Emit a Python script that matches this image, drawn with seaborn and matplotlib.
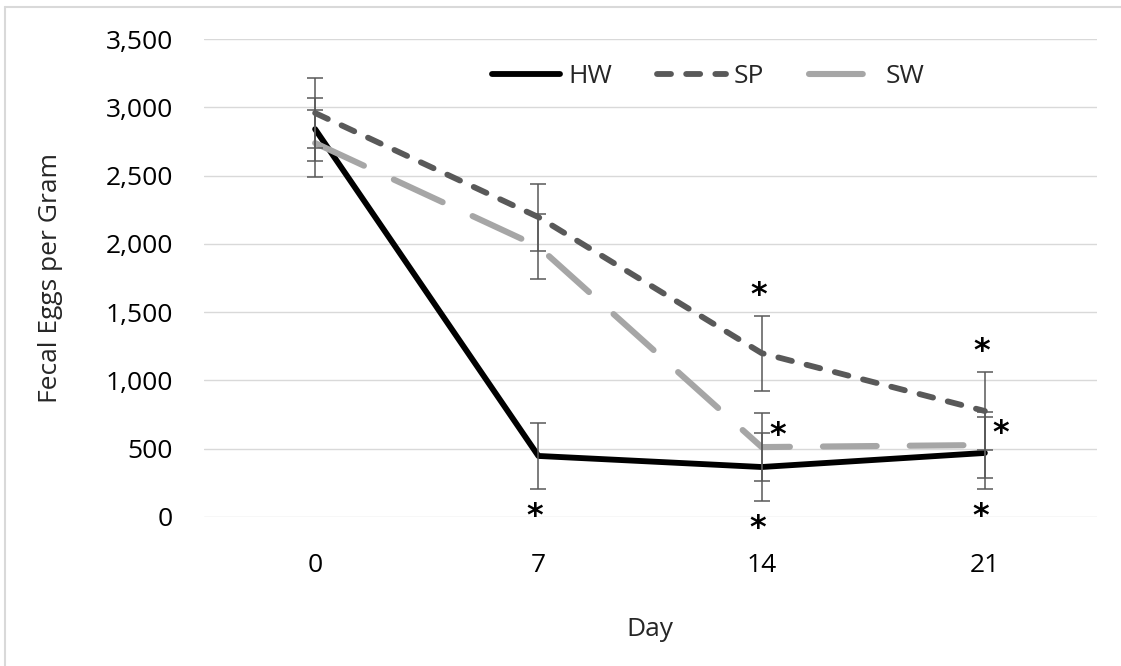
import matplotlib
matplotlib.use("Agg")
import matplotlib.pyplot as plt
from matplotlib.lines import Line2D
from matplotlib.ticker import FuncFormatter
import seaborn as sns
import pandas as pd

# ---- data ----
days = [0, 7, 14, 21]
groups = ["HW", "SP", "SW"]
hw = [2840, 447, 366, 469]
sp = [2958, 2196, 1200, 776]
sw = [2738, 1980, 512, 527]
hw_err = [230, 242, 249, 264]
sp_err = [255, 245, 275, 285]
sw_err = [245, 235, 252, 240]
yticks = [0, 500, 1000, 1500, 2000, 2500, 3000, 3500]

# significance marks: (group, day, side)
sig_group = ["HW", "HW", "SP", "SW", "HW", "SP", "SW"]
sig_day = [7, 14, 14, 14, 21, 21, 21]
sig_side = ["below", "below", "above", "right", "below", "above", "right"]

values = {"HW": hw, "SP": sp, "SW": sw}
errors = {"HW": hw_err, "SP": sp_err, "SW": sw_err}

df = pd.DataFrame({
    "Day": days * 3,
    "Group": [g for g in groups for _ in days],
    "FEC": hw + sp + sw,
})

colors = {"HW": "#000000", "SP": "#595959", "SW": "#A6A6A6"}
lws = {"HW": 4.2, "SP": 4.2, "SW": 4.4}
dash = {"HW": None, "SP": (2.4, 2.6), "SW": (8.8, 5.4)}

sns.set_style("white")
plt.rcParams["font.family"] = ["Open Sans", "DejaVu Sans"]

fig = plt.figure(figsize=(11.21, 6.66), dpi=100)
ax = fig.add_axes([203.5 / 1121, 1 - 517 / 666, 893 / 1121, 478 / 666])

for g in groups:
    sub = df[df["Group"] == g]
    sns.lineplot(data=sub, x="Day", y="FEC", ax=ax, color=colors[g],
                 linewidth=lws[g], label=g, zorder=3)
    ln = ax.lines[-1]
    if dash[g] is not None:
        ln.set_dashes(dash[g])
    ln.set_dash_capstyle("round")
    ln.set_solid_capstyle("round")

for g in groups:
    ax.errorbar(days, values[g], yerr=errors[g], fmt="none",
                ecolor="#595959", elinewidth=1.1, capsize=5.5,
                capthick=1.1, zorder=4)

# significance asterisks
idx = {d: i for i, d in enumerate(days)}
for g, d, s in zip(sig_group, sig_day, sig_side):
    v = values[g][idx[d]]
    e = errors[g][idx[d]]
    if s == "above":
        xy, off = (d, v + e), (-3, 24)
    elif s == "below":
        xy, off = (d, v - e), (-4, -24)
    else:
        xy, off = (d, v), (16, 15)
    ax.annotate("*", xy=xy, xytext=off, textcoords="offset pixels",
                ha="center", va="center_baseline", fontsize=23,
                fontweight="bold", family="DejaVu Sans", color="black",
                annotation_clip=False, zorder=5)

ax.set_xlim(-3.5, 24.5)
ax.set_ylim(0, 3500)
ax.set_xticks(days)
ax.set_yticks(yticks)
ax.yaxis.set_major_formatter(FuncFormatter(lambda v, p: f"{int(v):,}"))
ax.grid(axis="y", color="#D9D9D9", linewidth=1.0)
ax.grid(axis="x", visible=False)
for sp_ in ax.spines.values():
    sp_.set_visible(False)
ax.tick_params(axis="both", length=0, labelsize=19, colors="#000000")
ax.tick_params(axis="y", pad=22)
ax.tick_params(axis="x", pad=26)
ax.set_xlabel("Day", fontsize=19, labelpad=28)
ax.set_ylabel("Fecal Eggs per Gram", fontsize=19, labelpad=31)

ax.legend(loc="center", bbox_to_anchor=(0.565, 0.922), ncol=3, frameon=False,
          fontsize=19, handlelength=2.6, handletextpad=0.3,
          columnspacing=1.7)

# chart-area border (top and left visible)
fig.add_artist(Line2D([5 / 1121, 1.0], [1 - 7 / 666, 1 - 7 / 666],
                      transform=fig.transFigure, color="#D9D9D9", lw=1.5))
fig.add_artist(Line2D([5 / 1121, 5 / 1121], [0.0, 1 - 7 / 666],
                      transform=fig.transFigure, color="#D9D9D9", lw=1.5))

fig.savefig("out.png", dpi=100, facecolor="white")
